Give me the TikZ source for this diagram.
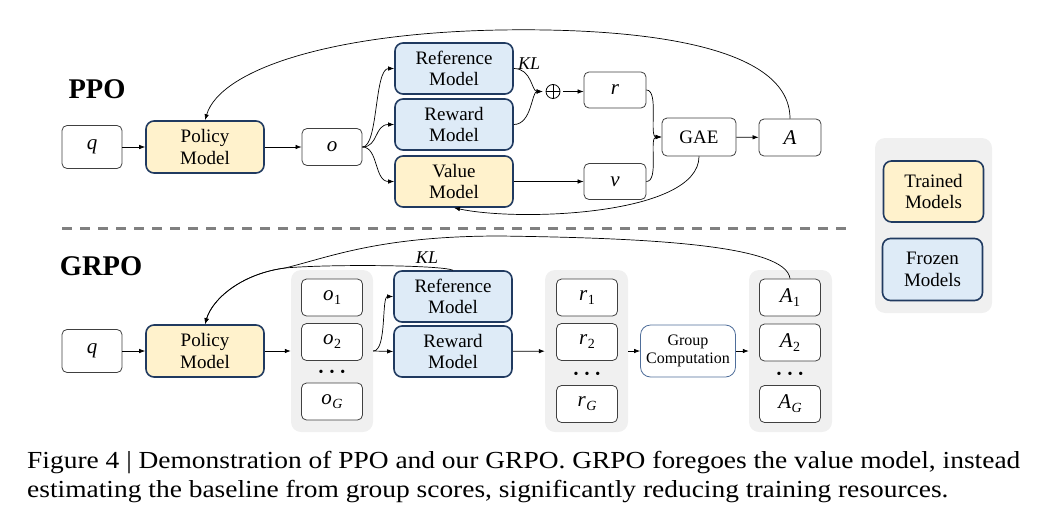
\documentclass[tikz,border=0pt]{standalone}
\usepackage{fontspec}
\setmainfont{Liberation Serif}
\newfontfamily\capfont[FakeStretch=1.12]{Liberation Serif}
\usetikzlibrary{arrows.meta}
\definecolor{trainfill}{HTML}{FFF2CC}
\definecolor{frozfill}{HTML}{DEEBF7}
\definecolor{navy}{HTML}{203A60}
\definecolor{boxgray}{HTML}{404040}
\definecolor{grpgray}{HTML}{F0F0F0}
\definecolor{dashgray}{HTML}{808080}
\definecolor{gcblue}{HTML}{4F6E9A}
\newcommand{\vr}[1]{\textit{#1}}
\newcommand{\vrs}[2]{\textit{#1}\kern0.5pt\raisebox{-4pt}{\fontsize{14}{14}\selectfont #2}}
\begin{document}
\begin{tikzpicture}[x=1pt,y=-1pt,
  mdl/.style={draw=navy, line width=1.6pt, rounded corners=8pt, minimum width=118pt, minimum height=51pt, inner sep=0pt, align=center, font=\fontsize{19}{21.5}\selectfont},
  trained/.style={mdl, fill=trainfill},
  frozen/.style={mdl, fill=frozfill},
  wbox/.style={draw=boxgray, line width=0.8pt, fill=white, rounded corners=5pt, minimum width=61pt, minimum height=37pt, inner sep=0pt, font=\fontsize{21}{22}\selectfont},
  grp/.style={fill=grpgray, rounded corners=10pt, minimum width=82pt, minimum height=162pt, inner sep=0pt},
  arr/.style={-{Latex[length=6pt,width=4.5pt]}, line width=0.7pt, black},
  ttl/.style={font=\fontsize{28.5}{30}\selectfont\bfseries, inner sep=0pt},
  dotrow/.style={font=\fontsize{14}{14}\selectfont, inner sep=0pt},
  captxt/.style={anchor=base west, inner sep=0pt, font=\capfont\fontsize{24.5}{29}\selectfont},
  lbl/.style={font=\fontsize{18}{18}\selectfont\itshape, inner sep=0pt},
]
\useasboundingbox (0,0) rectangle (1048,530);

% ---------------- PPO ----------------
\node[ttl] (tppo) at (97,89) {PPO};
\node[wbox, minimum width=60pt, minimum height=43pt] (q1) at (92,147) {\vr{q}};
\node[trained, minimum height=52pt] (pol1) at (205,147) {Policy\\Model};
\node[wbox, minimum width=60pt] (o) at (332,147) {\vr{o}};
\node[frozen] (ref1) at (454,68.5) {Reference\\Model};
\node[frozen] (rew1) at (454,124.5) {Reward\\Model};
\node[trained] (val1) at (454,181.5) {Value\\Model};
\node[draw, circle, line width=0.8pt, minimum size=14pt, inner sep=0pt] (plus) at (553,91.5) {};
\draw[line width=0.8pt] (plus.north) -- (plus.south) (plus.west) -- (plus.east);
\node[lbl] (kl1) at (529,64) {KL};
\node[wbox, minimum width=62pt, minimum height=36pt] (r) at (615,90) {\vr{r}};
\node[wbox, minimum width=62pt, minimum height=36pt] (v) at (615,181.5) {\vr{v}};
\node[wbox, minimum width=74pt, minimum height=38pt, font=\fontsize{19}{20}\selectfont] (gae) at (699,137) {GAE};
\node[wbox, minimum width=62pt] (A) at (790,137.5) {\vr{A}};

\draw[arr] (q1) -- (pol1);
\draw[arr] (pol1) -- (o);
\draw[arr] (o.east) .. controls +(16,0) and +(-20,0) .. (ref1.west);
\draw[arr] (o.east) .. controls +(16,0) and +(-20,0) .. (rew1.west);
\draw[arr] (o.east) .. controls +(16,0) and +(-20,0) .. (val1.west);
\draw[arr, shorten >=3pt] (ref1.east) .. controls +(18,0) and +(-14,0) .. (plus.west);
\draw[arr, shorten >=3pt] (rew1.east) .. controls +(18,0) and +(-14,0) .. (plus.west);
\draw[arr, shorten <=3pt] (plus.east) -- (plus.east -| r.west);
\draw[arr] (val1.east) -- (val1.east -| v.west);
\draw[arr] (r.east) .. controls +(13,0) and +(-13,0) .. (gae.west);
\draw[arr] (v.east) .. controls +(13,0) and +(-13,0) .. (gae.west);
\draw[arr] (gae) -- (A);
\draw[arr] (A.north) .. controls (790,40) and (620,28) .. (500,30) .. controls (330,33) and (220,70) .. (pol1.north);
\draw[arr] (gae.south) .. controls (699,215) and (520,222) .. (val1.south);

% ---------------- separator ----------------
\draw[dashgray, line width=3pt, dash pattern=on 10pt off 8pt] (62,228) -- (848,228);

% ---------------- GRPO ----------------
\node[ttl] (tgrpo) at (101,266) {GRPO};
\node[wbox, minimum width=60pt, minimum height=43pt] (q2) at (92,351) {\vr{q}};
\node[trained, minimum height=52pt] (pol2) at (205,351) {Policy\\Model};

\node[grp] (ogrp) at (332,351) {};
\node[wbox] (o1) at (332,297.5) {\vrs{o}{1}};
\node[wbox] (o2) at (332,342) {\vrs{o}{2}};
\node[dotrow] (odots) at (332,373) {\textbullet\hspace{6pt}\textbullet\hspace{6pt}\textbullet};
\node[wbox] (oG) at (332,401.5) {\vrs{o}{\itshape G}};

\node[frozen] (ref2) at (453,296.5) {Reference\\Model};
\node[frozen] (rew2) at (453,351.5) {Reward\\Model};
\node[lbl] (kl2) at (427,258) {KL};

\node[grp, minimum width=83pt] (rgrp) at (586.5,351) {};
\node[wbox] (r1) at (587,297.5) {\vrs{r}{1}};
\node[wbox] (r2) at (587,342) {\vrs{r}{2}};
\node[dotrow] (rdots) at (587,375) {\textbullet\hspace{6pt}\textbullet\hspace{6pt}\textbullet};
\node[wbox] (rG) at (587,404) {\vrs{r}{\itshape G}};

\node[draw=gcblue, line width=0.8pt, fill=white, rounded corners=10pt, minimum width=95pt, minimum height=52pt, inner sep=0pt, align=center, font=\fontsize{16}{18}\selectfont] (gc) at (688,351) {Group\\Computation};

\node[grp, minimum width=83pt] (Agrp) at (790.5,351) {};
\node[wbox] (A1) at (790,297.5) {\vrs{A}{1}};
\node[wbox] (A2) at (790,342.5) {\vrs{A}{2}};
\node[dotrow] (Adots) at (790,375) {\textbullet\hspace{6pt}\textbullet\hspace{6pt}\textbullet};
\node[wbox] (AG) at (790,404) {\vrs{A}{\itshape G}};

\coordinate (mrg) at (285,268);
\draw[arr] (q2) -- (pol2);
\draw[arr] (pol2) -- (ogrp);
\draw[arr] (ogrp.east) .. controls +(14,0) and +(-12,0) .. (ref2.west);
\draw[arr] (ogrp.east) -- (rew2.west);
\draw[arr] (rew2) -- (rgrp);
\draw[arr] (rgrp) -- (gc);
\draw[arr] (gc) -- (Agrp);
\draw[arr] (ref2.north) .. controls (440,265) and (330,264) .. (mrg) .. controls (240,274) and (212,300) .. (pol2.north);
\draw[arr] (A1.north) .. controls (786,245) and (650,238) .. (500,236) .. controls (380,236) and (330,257) .. (mrg) .. controls (240,274) and (212,300) .. (pol2.north);

% ---------------- legend ----------------
\node[fill=grpgray, rounded corners=10pt, minimum width=117pt, minimum height=175pt, inner sep=0pt] (leg) at (933.5,225.5) {};
\node[trained, minimum width=100pt, minimum height=61pt] (ltr) at (933.5,191.5) {Trained\\Models};
\node[frozen, minimum width=100pt, minimum height=62pt] (lfr) at (932.5,269.5) {Frozen\\Models};

% ---------------- caption ----------------
\node[captxt] (cap1) at (27,468) {Figure 4 | Demonstration of PPO and our GRPO. GRPO foregoes the value model, instead};
\node[captxt] (cap2) at (27,497) {estimating the baseline from group scores, significantly reducing training resources.};
\end{tikzpicture}
\end{document}
